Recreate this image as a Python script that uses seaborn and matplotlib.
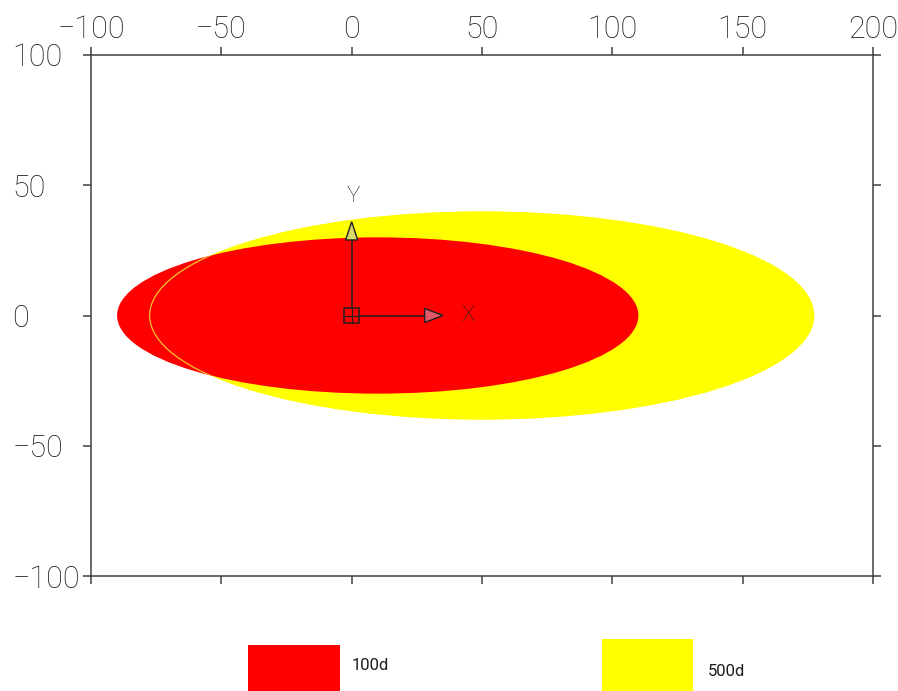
import numpy as np
import matplotlib
matplotlib.use("Agg")
import matplotlib.pyplot as plt
import seaborn as sns
from matplotlib.patches import Ellipse, Polygon, Rectangle

# --- Data ---
series_labels = ["100d", "500d"]
series_colors = ["#ff0000", "#ffff00"]
center_x = [10, 50]          # ellipse centre (x)
center_y = [0, 0]            # ellipse centre (y)
semi_x = [100, 127.5]        # semi-axis along x
semi_y = [30, 40]            # semi-axis along y

x_ticks = [-100, -50, 0, 50, 100, 150, 200]
y_ticks = [-100, -50, 0, 50, 100]

ucs_len = 36       # length of the UCS icon arrows
ucs_head = 7       # arrowhead length
ucs_box = 3        # half size of origin square

# --- Style ---
sns.set_theme(style="white")
plt.rcParams["font.family"] = ["Roboto", "DejaVu Sans"]
TXT = "#1e1e1e"
LINE = "#404040"

W, H = 898, 691
fig = plt.figure(figsize=(W / 100, H / 100), dpi=100)
ax = fig.add_axes([91 / W, 1 - 576 / H, (873 - 91) / W, (576 - 55) / H])
ax.set_xlim(-100, 200)
ax.set_ylim(-100, 100)

# yellow (500d) under red (100d)
ax.add_patch(Ellipse((center_x[1], center_y[1]), 2 * semi_x[1], 2 * semi_y[1],
                     facecolor=series_colors[1], edgecolor="none", zorder=1))
red = Ellipse((center_x[0], center_y[0]), 2 * semi_x[0], 2 * semi_y[0],
              facecolor=series_colors[0], edgecolor="none", zorder=2)
ax.add_patch(red)
# thin outline of the 500d contour, visible only over the red area
outline = Ellipse((center_x[1], center_y[1]), 2 * semi_x[1], 2 * semi_y[1],
                  facecolor="none", edgecolor="#f4c62a", lw=0.9, zorder=3)
ax.add_patch(outline)
outline.set_clip_path(red)

# --- UCS icon at origin ---
k = "#202020"
ax.plot([0, 0], [ucs_box, ucs_len - ucs_head], color=k, lw=1.1, zorder=5)
ax.plot([ucs_box, ucs_len - ucs_head], [0, 0], color=k, lw=1.1, zorder=5)
ax.add_patch(Rectangle((-ucs_box, -ucs_box), 2 * ucs_box, 2 * ucs_box,
                       facecolor="none", edgecolor=k, lw=1.1, zorder=5))
ax.plot([0, 0], [-ucs_box, ucs_box], color=k, lw=0.9, zorder=5)
ax.plot([-ucs_box, ucs_box], [0, 0], color=k, lw=0.9, zorder=5)
ax.add_patch(Polygon([[-2.3, ucs_len - ucs_head], [2.3, ucs_len - ucs_head], [0, ucs_len]],
                     closed=True, facecolor="#d9d86a", edgecolor=k, lw=1.0, zorder=6))
ax.add_patch(Polygon([[ucs_len - ucs_head - 1, -2.7], [ucs_len - ucs_head - 1, 2.7], [ucs_len - 1, 0]],
                     closed=True, facecolor="#e05a6a", edgecolor=k, lw=1.0, zorder=6))
ax.text(0.5, ucs_len + 9.5, "Y", ha="center", va="center", fontsize=16,
        fontweight="light", color=k, zorder=6)
ax.text(ucs_len + 8.5, 0, "X", ha="center", va="center", fontsize=16,
        fontweight="light", color=k, zorder=6)

# --- Axes / ticks ---
ax.set_xticks(x_ticks)
ax.set_yticks(y_ticks)
ax.set_xticklabels([f"{v}".replace("-", "\u2212") for v in x_ticks])
ax.set_yticklabels([f"{v}".replace("-", "\u2212") for v in y_ticks])
ax.tick_params(direction="out", length=5.8, width=1.1, color=LINE,
               top=True, bottom=True, left=True, right=True,
               labeltop=True, labelbottom=False, labelleft=True, labelright=False,
               labelsize=22, labelcolor=TXT)
ax.tick_params(axis="x", pad=2)
ax.tick_params(axis="y", pad=51)
for lab in ax.get_xticklabels() + ax.get_yticklabels():
    lab.set_fontweight("light")
for lab in ax.get_yticklabels():
    lab.set_horizontalalignment("left")
for s in ax.spines.values():
    s.set_visible(True)
    s.set_color(LINE)
    s.set_linewidth(1.1)
ax.grid(False)

# --- Legend swatches below the plot ---
fig.add_artist(Rectangle((248 / W, 0), (340 - 248) / W, (691 - 645) / H,
                         transform=fig.transFigure, facecolor=series_colors[0], edgecolor="none"))
fig.add_artist(Rectangle((602 / W, 0), (693 - 602) / W, (691 - 639) / H,
                         transform=fig.transFigure, facecolor=series_colors[1], edgecolor="none"))
fig.text(352 / W, 1 - 666 / H, series_labels[0], ha="left", va="center", fontsize=12, color=TXT)
fig.text(708 / W, 1 - 671 / H, series_labels[1], ha="left", va="center", fontsize=12, color=TXT)

fig.savefig("out.png", dpi=100)
